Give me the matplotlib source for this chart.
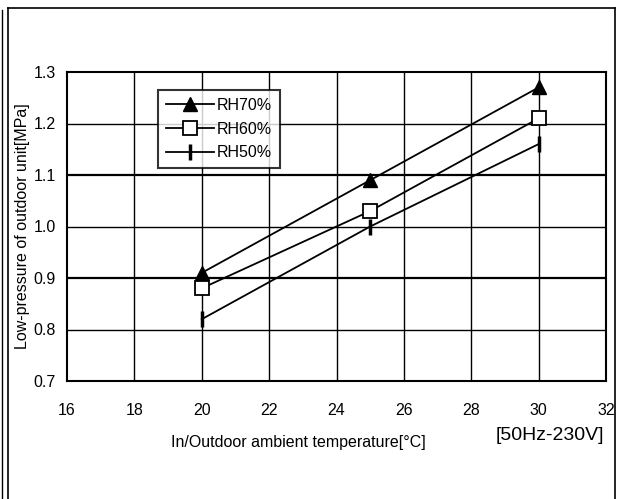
import matplotlib
matplotlib.use('Agg')
import matplotlib.pyplot as plt
from matplotlib.lines import Line2D

# Data
temps = [20, 25, 30]
rh70 = [0.91, 1.09, 1.27]
rh60 = [0.88, 1.03, 1.21]
rh50 = [0.82, 1.00, 1.16]
xticks = [16, 18, 20, 22, 24, 26, 28, 30, 32]
yticks = [0.7, 0.8, 0.9, 1.0, 1.1, 1.2, 1.3]

plt.rcParams['font.family'] = ['Liberation Sans', 'DejaVu Sans']

fig = plt.figure(figsize=(6.17, 4.99), dpi=100)
ax = fig.add_axes([67 / 617, 1 - 381 / 499, 539 / 617, 309 / 499])

# grid: thicker lines on 0.9 and 1.1
for x in xticks[1:-1]:
    ax.axvline(x, color='black', lw=1.0, zorder=1)
for y in yticks[1:-1]:
    lw = 1.6 if round(y, 1) in (0.9, 1.1) else 1.0
    ax.axhline(y, color='black', lw=lw, zorder=1)

ax.plot(temps, rh70, color='black', lw=1.3, marker='^', ms=10,
        mfc='black', mec='black', label='RH70%', zorder=3)
ax.plot(temps, rh60, color='black', lw=1.3, marker='s', ms=10,
        mfc='white', mec='black', mew=1.3, label='RH60%', zorder=3)
ax.plot(temps, rh50, color='black', lw=1.3, marker='|', ms=11,
        mew=2.5, mec='black', label='RH50%', zorder=3)

ax.set_xlim(16, 32)
ax.set_ylim(0.7, 1.3)
ax.set_xticks(xticks)
ax.set_yticks(yticks)
ax.set_yticklabels([f'{v:.1f}' for v in yticks])
ax.tick_params(length=0, labelsize=11.5)
ax.tick_params(axis='x', pad=16)
ax.tick_params(axis='y', pad=8)
for s in ax.spines.values():
    s.set_linewidth(1.5)

ax.set_ylabel('Low-pressure of outdoor unit[MPa]', fontsize=11.5)
ax.yaxis.set_label_coords(-(67 - 30) / 539, 0.5)
ax.set_xlabel('In/Outdoor ambient temperature[°C]', fontsize=11.5)
ax.xaxis.set_label_coords((298 - 67) / 539, -(435 - 381) / 309)
fig.text(604 / 617, 1 - 435 / 499, '[50Hz-230V]', fontsize=14,
         ha='right', va='center')

leg = ax.legend(loc='upper left', bbox_to_anchor=(0.169, 0.942),
                fontsize=11.5, frameon=True, fancybox=False, handlelength=3,
                borderpad=0.5, labelspacing=0.55, handletextpad=0.2,
                borderaxespad=0)
leg.get_frame().set_edgecolor('black')
leg.get_frame().set_linewidth(1.5)

# page frame around the chart
def fline(x0, y0, x1, y1, lw=1.2):
    fig.add_artist(Line2D([x0 / 617, x1 / 617], [1 - y0 / 499, 1 - y1 / 499],
                          color='black', lw=lw, transform=fig.transFigure))

fline(2, 10, 2, 499, 1.0)
fline(8, 8, 8, 499)
fline(8, 8, 615, 8)
fline(615, 8, 615, 499)

plt.savefig('out.png', dpi=100)
plt.close()
